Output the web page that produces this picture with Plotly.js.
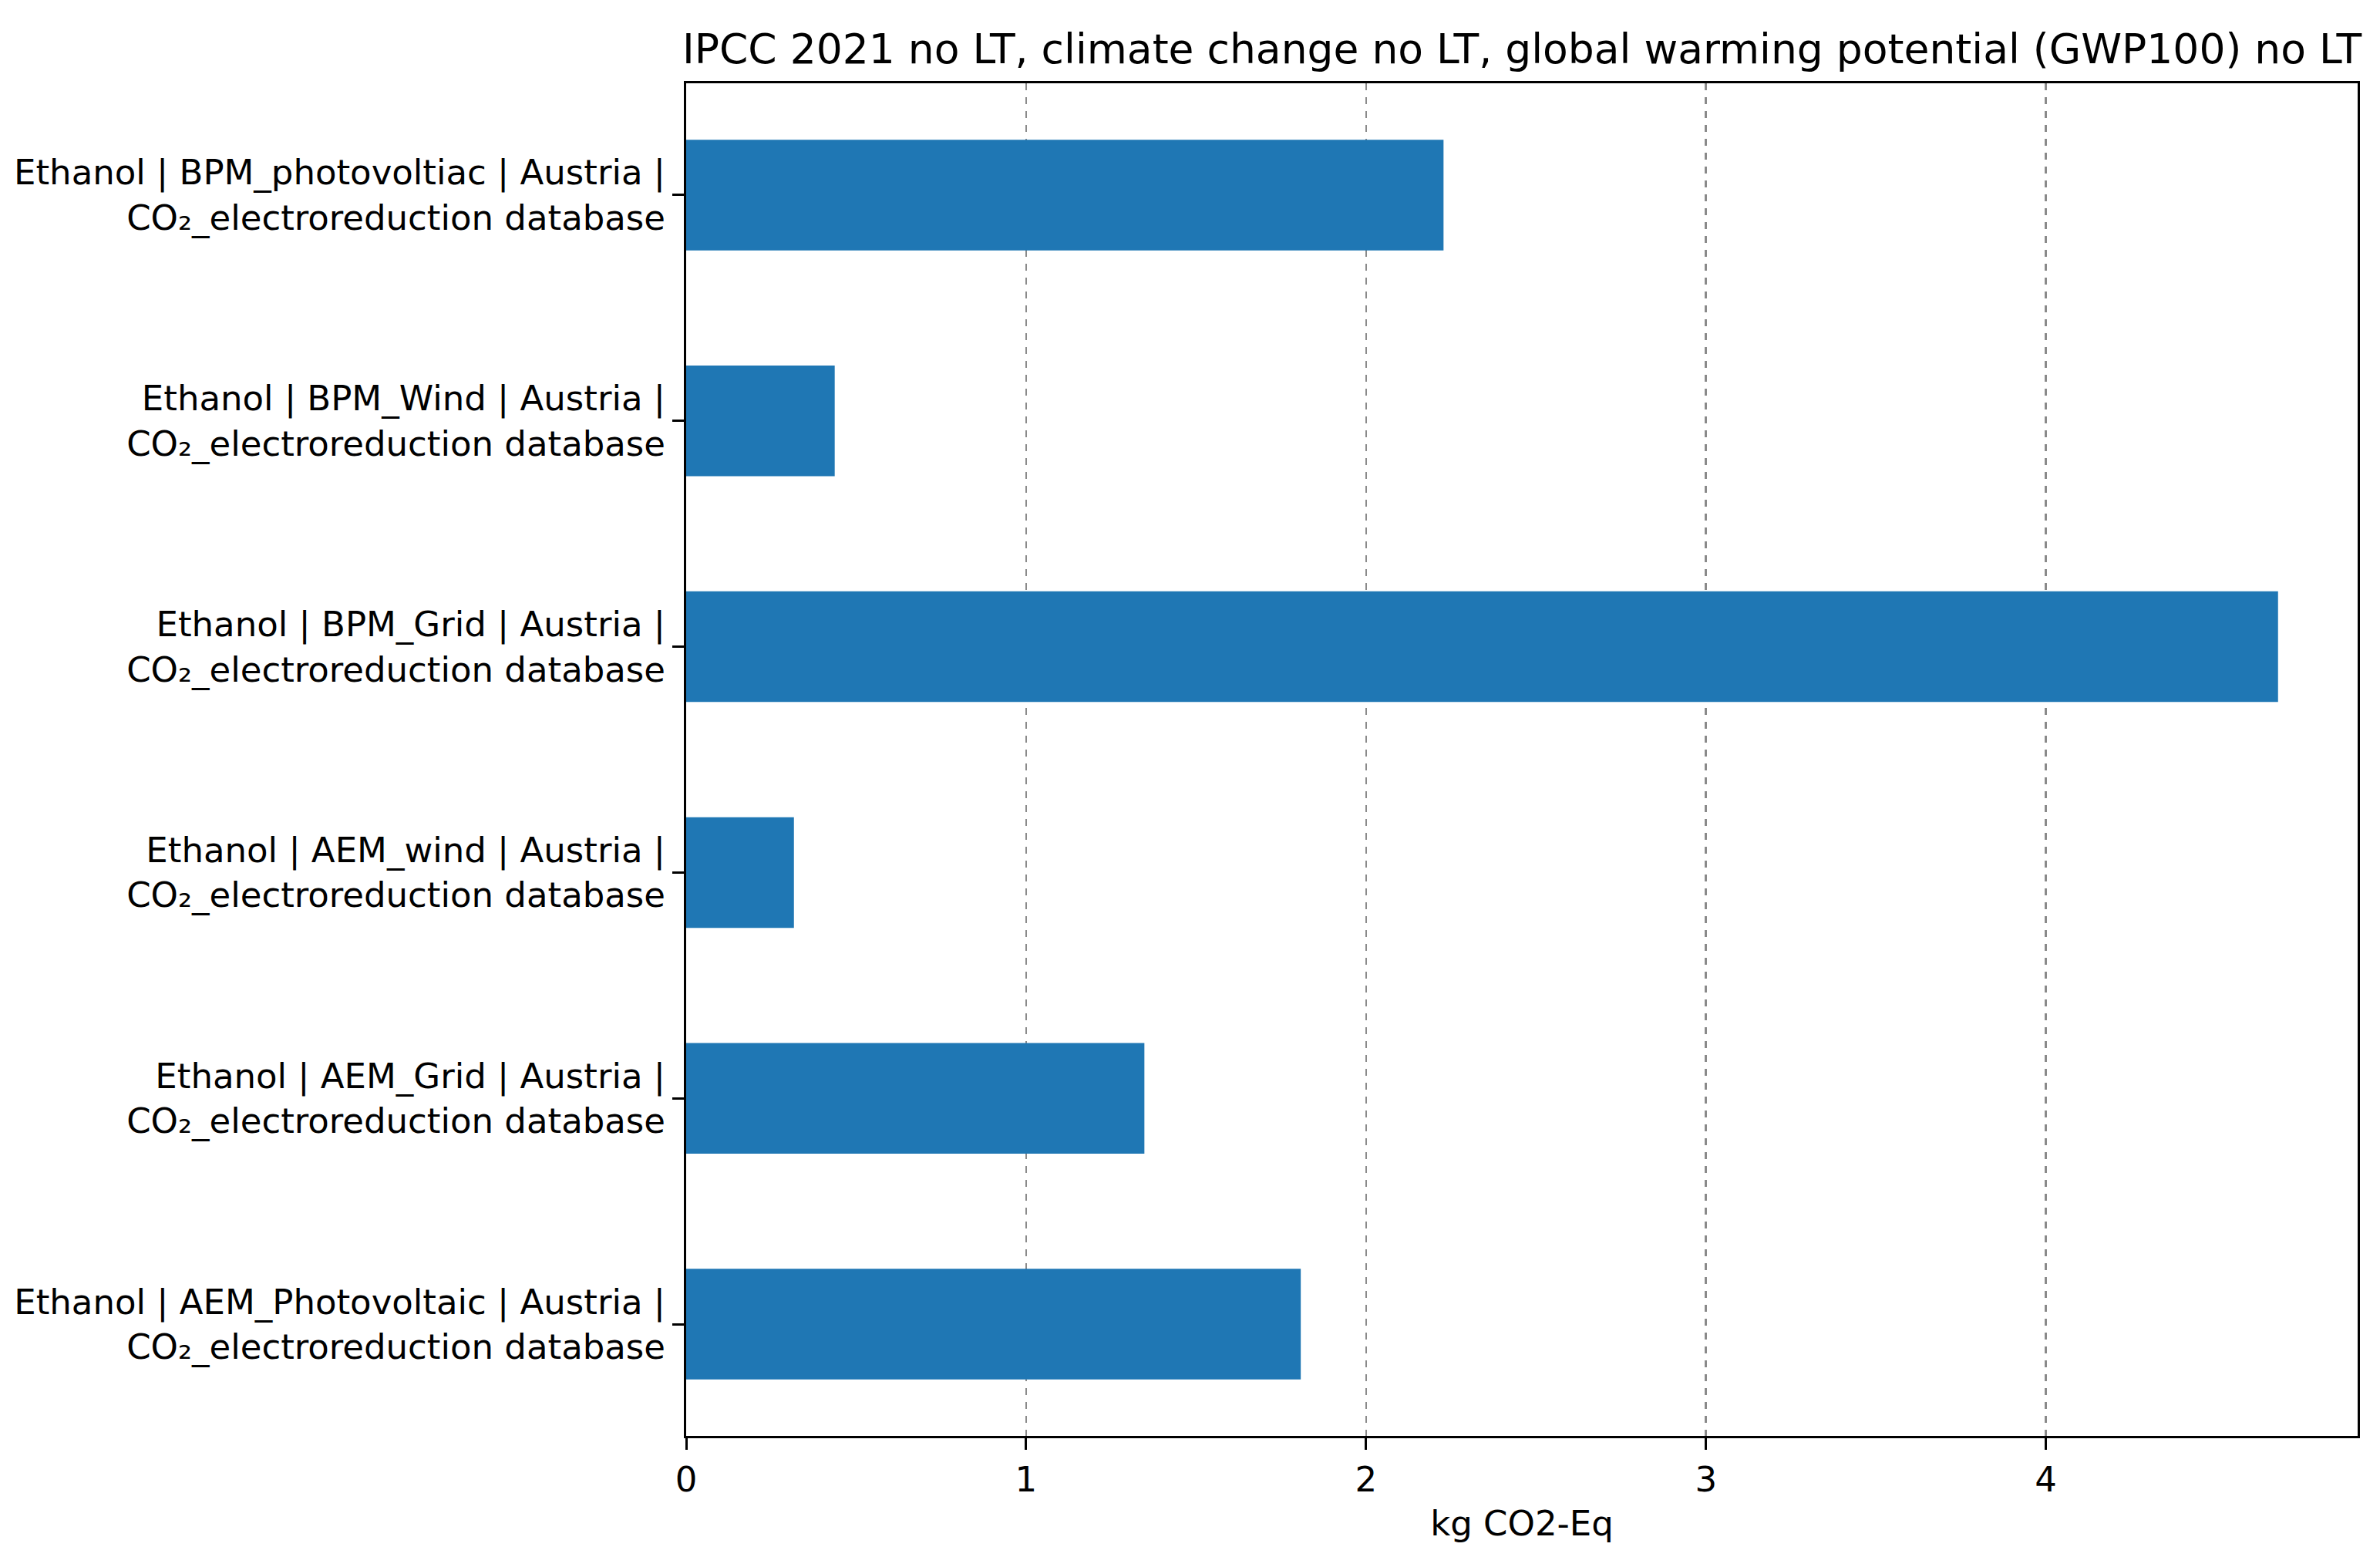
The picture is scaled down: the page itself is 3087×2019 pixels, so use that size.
<!DOCTYPE html>
<html>
<head>
<meta charset="utf-8">
<script src="https://cdn.plot.ly/plotly-3.0.1.min.js"></script>
<style>
  html, body { margin: 0; padding: 0; background: #ffffff; }
  #myDiv { width: 3087px; height: 2019px; }
</style>
</head>
<body>
<div id="myDiv"></div>
<script>
// Data (bottom to top, the way pandas barh draws it)
let Categories = [
  "Ethanol | AEM_Photovoltaic | Austria |<br>CO₂_electroreduction database",
  "Ethanol | AEM_Grid | Austria |<br>CO₂_electroreduction database",
  "Ethanol | AEM_wind | Austria |<br>CO₂_electroreduction database",
  "Ethanol | BPM_Grid | Austria |<br>CO₂_electroreduction database",
  "Ethanol | BPM_Wind | Austria |<br>CO₂_electroreduction database",
  "Ethanol | BPM_photovoltiac | Austria |<br>CO₂_electroreduction database"
]
let Values_GWP = [1.808, 1.348, 0.317, 4.683, 0.437, 2.228]
let Tick_Values_X = [0, 1, 2, 3, 4]
let Tick_Labels_X = ["0", "1", "2", "3", "4"]

let Title_Text = "IPCC 2021 no LT, climate change no LT, global warming potential (GWP100) no LT"
let XLabel_Text = "kg CO2-Eq"

let FONT = "DejaVu Sans, sans-serif"
let xMax = Math.max(...Values_GWP) * 1.05

let trace1 = {
  type: 'bar',
  orientation: 'h',
  x: Values_GWP,
  y: Categories,
  marker: { color: '#1f77b4', line: { width: 0 } },
  hoverinfo: 'skip'
}

let layout = {
  width: 3087,
  height: 2019,
  paper_bgcolor: '#ffffff',
  plot_bgcolor: '#ffffff',
  showlegend: false,
  bargap: 0.51,
  margin: { l: 890, r: 29, t: 108, b: 157, pad: 0 },
  font: { family: FONT, size: 45, color: '#000000' },
  title: {
    text: Title_Text,
    font: { family: FONT, size: 53.5, color: '#000000' },
    xref: 'paper',
    x: 0.5,
    xanchor: 'center',
    yref: 'paper',
    y: 1,
    yanchor: 'bottom',
    pad: { b: 26 }
  },
  xaxis: {
    range: [0, xMax],
    tickmode: 'array',
    tickvals: Tick_Values_X,
    ticktext: Tick_Labels_X,
    ticks: 'outside',
    ticklen: 15,
    tickwidth: 3,
    tickcolor: '#000000',
    tickfont: { family: FONT, size: 45, color: '#000000' },
    showgrid: true,
    gridcolor: '#8a8a8a',
    gridwidth: 2.5,
    griddash: 'dash',
    zeroline: false,
    showline: true,
    linecolor: '#000000',
    linewidth: 3,
    mirror: true,
    title: {
      text: XLabel_Text,
      font: { family: FONT, size: 45, color: '#000000' },
      standoff: 16
    }
  },
  yaxis: {
    type: 'category',
    range: [-0.495, 5.495],
    ticks: 'outside',
    ticklen: 15,
    tickwidth: 3,
    tickcolor: '#000000',
    tickfont: { family: FONT, size: 45, color: '#000000' },
    showgrid: false,
    zeroline: false,
    showline: true,
    linecolor: '#000000',
    linewidth: 3,
    mirror: true
  }
}

Plotly.newPlot('myDiv', [trace1], layout, { staticPlot: true, displayModeBar: false })
</script>
</body>
</html>
